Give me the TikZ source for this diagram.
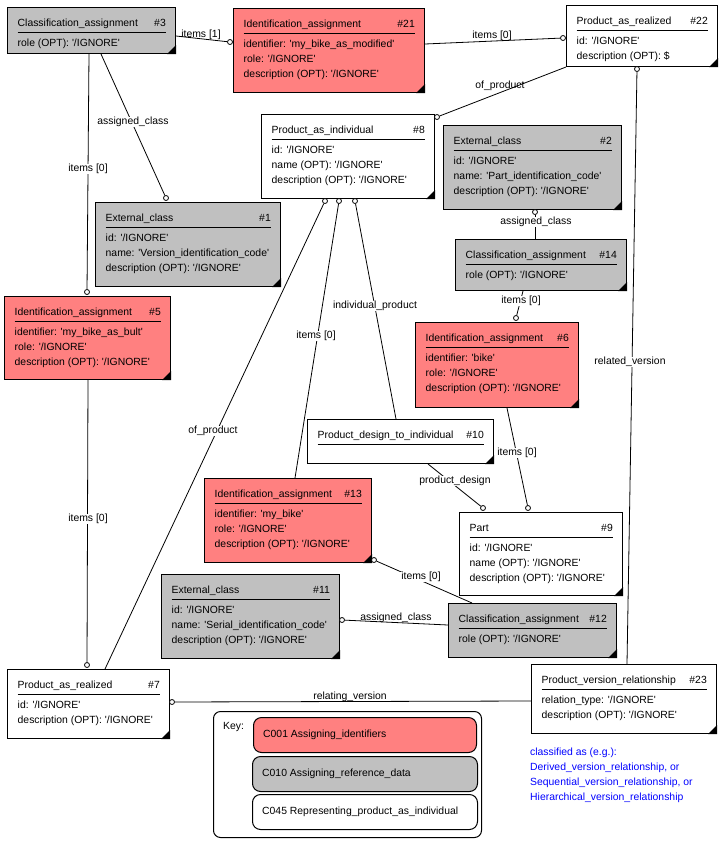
\documentclass[tikz,border=0pt]{standalone}
\usepackage{fontspec}
\setmainfont{Liberation Sans}[Ligatures=TeXOff]
\usetikzlibrary{calc}
\definecolor{pinkc}{RGB}{255,128,128}
\definecolor{grayc}{RGB}{192,192,192}
\definecolor{bluec}{RGB}{0,0,255}
\newcommand\fsz{\fontsize{10.4pt}{12pt}\selectfont}
\tikzset{
 box/.style={draw, line width=1pt, rectangle, inner sep=0pt, anchor=north west},
 txt/.style={inner sep=0pt, font=\fsz, text height=7.5pt, text depth=2pt},
 lbl/.style={txt, fill=white, inner xsep=1pt, inner ysep=0.5pt},
 lblh/.style={txt},
 circ/.style={circle, draw, fill=white, inner sep=0pt, minimum size=5pt, line width=0.8pt},
 conn/.style={line width=0.8pt},
 keybox/.style={draw, line width=1pt, rounded corners=8pt, anchor=north west, inner sep=0pt},
}
\newcommand\ent[8]{%
 \node[box, fill=#6, minimum width=#4pt, minimum height=#5pt] (#1) at (#2,#3) {};
 \fill ($(#1.south east)+(0,-9)$) -- (#1.south east) -- ($(#1.south east)+(-9,0)$) -- cycle;
 \node[txt, anchor=west] (#1-t) at ($(#1.north west)+(10.5,17)$) {#7};
 \node[txt, anchor=east] (#1-n) at ($(#1.north east)+(-10,17)$) {#8};
 \draw[line width=1pt] ($(#1.north west)+(10.5,25)$) -- ($(#1.north east)+(-10,25)$);
}
\newcommand\att[3]{\node[txt, anchor=west] (#1-a#2) at ($(#1.north west)+(10.5,{22+15*#2})$) {#3};}
\begin{document}
\begin{tikzpicture}[x=1pt,y=-1pt]
\fill[white] (0,0) rectangle (728,852);
\useasboundingbox (0,0) rectangle (728,852);

% entities
\ent{n3}{7}{7}{168}{46}{grayc}{Classification\_assignment}{\#3}
\att{n3}{1}{role (OPT): '/IGNORE'}
\ent{n21}{233}{8}{191}{84}{pinkc}{Identification\_assignment}{\#21}
\att{n21}{1}{identifier: 'my\_bike\_as\_modified'}
\att{n21}{2}{role: '/IGNORE'}
\att{n21}{3}{description (OPT): '/IGNORE'}
\ent{n22}{566}{5}{151}{61}{white}{Product\_as\_realized}{\#22}
\att{n22}{1}{id: '/IGNORE'}
\att{n22}{2}{description (OPT): \$}
\ent{n8}{261}{114}{173}{84}{white}{Product\_as\_individual}{\#8}
\att{n8}{1}{id: '/IGNORE'}
\att{n8}{2}{name (OPT): '/IGNORE'}
\att{n8}{3}{description (OPT): '/IGNORE'}
\ent{n2}{443}{125}{178}{84}{grayc}{External\_class}{\#2}
\att{n2}{1}{id: '/IGNORE'}
\att{n2}{2}{name: 'Part\_identification\_code'}
\att{n2}{3}{description (OPT): '/IGNORE'}
\ent{n14}{455}{239}{171}{51}{grayc}{Classification\_assignment}{\#14}
\att{n14}{1}{role (OPT): '/IGNORE'}
\ent{n1}{95}{202}{185}{84}{grayc}{External\_class}{\#1}
\att{n1}{1}{id: '/IGNORE'}
\att{n1}{2}{name: 'Version\_identification\_code'}
\att{n1}{3}{description (OPT): '/IGNORE'}
\ent{n5}{4}{296}{166}{83}{pinkc}{Identification\_assignment}{\#5}
\att{n5}{1}{identifier: 'my\_bike\_as\_bult'}
\att{n5}{2}{role: '/IGNORE'}
\att{n5}{3}{description (OPT): '/IGNORE'}
\ent{n6}{415}{322}{163}{85}{pinkc}{Identification\_assignment}{\#6}
\att{n6}{1}{identifier: 'bike'}
\att{n6}{2}{role: '/IGNORE'}
\att{n6}{3}{description (OPT): '/IGNORE'}
\ent{n10}{307}{419}{186}{44}{white}{Product\_design\_to\_individual}{\#10}
\ent{n13}{204}{478}{167}{84}{pinkc}{Identification\_assignment}{\#13}
\att{n13}{1}{identifier: 'my\_bike'}
\att{n13}{2}{role: '/IGNORE'}
\att{n13}{3}{description (OPT): '/IGNORE'}
\ent{n9}{459}{512}{163}{83}{white}{Part}{\#9}
\att{n9}{1}{id: '/IGNORE'}
\att{n9}{2}{name (OPT): '/IGNORE'}
\att{n9}{3}{description (OPT): '/IGNORE'}
\ent{n11}{161}{574}{178}{84}{grayc}{External\_class}{\#11}
\att{n11}{1}{id: '/IGNORE'}
\att{n11}{2}{name: 'Serial\_identification\_code'}
\att{n11}{3}{description (OPT): '/IGNORE'}
\ent{n12}{448}{603}{168}{54}{grayc}{Classification\_assignment}{\#12}
\att{n12}{1}{role (OPT): '/IGNORE'}
\ent{n7}{7}{669}{162}{69}{white}{Product\_as\_realized}{\#7}
\att{n7}{1}{id: '/IGNORE'}
\att{n7}{2}{description (OPT): '/IGNORE'}
\ent{n23}{531}{664}{185}{69}{white}{Product\_version\_relationship}{\#23}
\att{n23}{1}{relation\_type: '/IGNORE'}
\att{n23}{2}{description (OPT): '/IGNORE'}

% circles
\node[circ] (c1) at (230,42) {};
\node[circ] (c2) at (563,38) {};
\node[circ] (c3) at (437,117) {};
\node[circ] (c4) at (637,69) {};
\node[circ] (c5) at (87,292) {};
\node[circ] (c6) at (166,198) {};
\node[circ] (c7) at (87,665) {};
\node[circ] (c8) at (325,201) {};
\node[circ] (c9) at (339,201) {};
\node[circ] (c10) at (355,201) {};
\node[circ] (c11) at (535,212) {};
\node[circ] (c12) at (516,318) {};
\node[circ] (c13) at (528,508) {};
\node[circ] (c14) at (483,508) {};
\node[circ] (c15) at (374,560) {};
\node[circ] (c16) at (342,620) {};
\node[circ] (c17) at (172,702) {};

% connectors
\draw[conn] ($(n3.north east)+(0,29)$) -- (c1);
\draw[conn] ($(n21.north east)+(0,36)$) -- (c2);
\draw[conn] (n22.south west) -- (c3);
\draw[conn] (c4) -- ($(n23.north west)+(96,0)$);
\draw[conn] ($(n3.south west)+(82,0)$) -- (c5);
\draw[conn] ($(n3.south west)+(94,0)$) -- (c6);
\draw[conn] ($(n5.south west)+(84,0)$) -- (c7);
\draw[conn] (c8) -- ($(n7.north west)+(98,0)$);
\draw[conn] (c9) -- ($(n13.north west)+(91,0)$);
\draw[conn] (c10) -- ($(n10.north west)+(89,0)$);
\draw[conn] ($(n14.north west)+(80,0)$) -- (c11);
\draw[conn] ($(n14.south west)+(68,0)$) -- (c12);
\draw[conn] ($(n6.south west)+(92,0)$) -- (c13);
\draw[conn] ($(n10.south west)+(121,0)$) -- (c14);
\draw[conn] ($(n12.north west)+(24,0)$) -- (c15);
\draw[conn] ($(n12.north west)+(0,22)$) -- (c16);
\draw[conn] ($(n23.north west)+(0,37)$) -- (c17);

% labels
\node[lblh] (l1) at (201,35) {items [1]};
\node[lblh] (l2) at (492,36) {items [0]};
\node[lblh] (l3) at (500,86) {of\_product};
\node[lbl] (l4) at (630,362) {related\_version};
\node[lbl] (l5) at (88,169) {items [0]};
\node[lbl] (l6) at (133,122) {assigned\_class};
\node[lbl] (l7) at (88,519) {items [0]};
\node[lbl] (l8) at (213,431) {of\_product};
\node[lbl] (l9) at (316,336) {items [0]};
\node[lbl] (l10) at (375,306) {individual\_product};
\node[lbl] (l11) at (536,222) {assigned\_class};
\node[lbl] (l12) at (521,301) {items [0]};
\node[lbl] (l13) at (517,453) {items [0]};
\node[lbl] (l14) at (455,481) {product\_design};
\node[lbl] (l15) at (421,577) {items [0]};
\node[lblh] (l16) at (396,618) {assigned\_class};
\node[lblh] (l17) at (350,697) {relating\_version};

% key
\node[keybox, rounded corners=7pt, minimum width=268pt, minimum height=126pt] (key) at (213,711) {};
\node[txt, anchor=west] (keyt) at (223,727) {Key:};
\node[keybox, fill=pinkc, minimum width=223pt, minimum height=35pt] (k1) at (253,717) {};
\node[txt, anchor=west] (k1t) at ($(k1.west)+(10,0)$) {C001 Assigning\_identifiers};
\node[keybox, fill=grayc, minimum width=225pt, minimum height=35pt] (k2) at (252,756) {};
\node[txt, anchor=west] (k2t) at ($(k2.west)+(10,0)$) {C010 Assigning\_reference\_data};
\node[keybox, fill=white, minimum width=225pt, minimum height=35pt] (k3) at (252,794) {};
\node[txt, anchor=west] (k3t) at ($(k3.west)+(10,0)$) {C045 Representing\_product\_as\_individual};

% note
\node[txt, anchor=west, text=bluec] (b1) at (530,753) {classified as (e.g.):};
\node[txt, anchor=west, text=bluec] (b2) at (530,768) {Derived\_version\_relationship, or};
\node[txt, anchor=west, text=bluec] (b3) at (530,783) {Sequential\_version\_relationship, or};
\node[txt, anchor=west, text=bluec] (b4) at (530,798) {Hierarchical\_version\_relationship};
\end{tikzpicture}
\end{document}
